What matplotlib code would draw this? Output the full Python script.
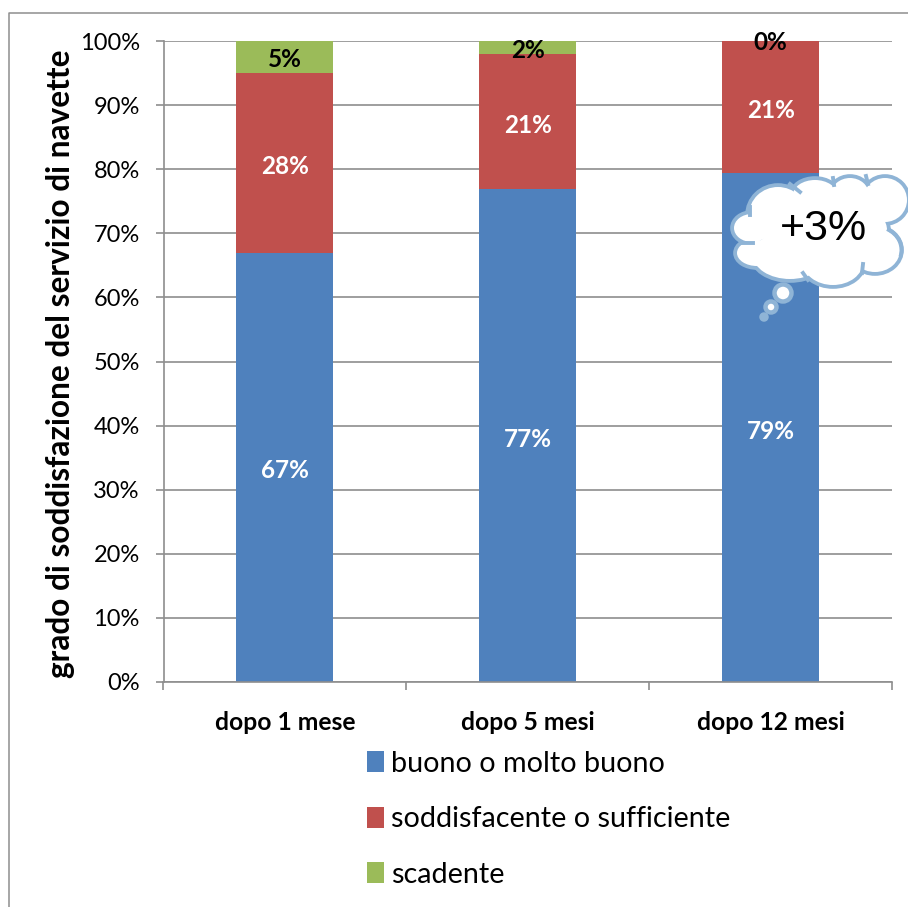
import matplotlib
matplotlib.use("Agg")
import numpy as np
from matplotlib import pyplot as plt
from matplotlib.patches import Ellipse, Arc
from matplotlib.lines import Line2D

plt.rcParams['font.family'] = ['Lato', 'DejaVu Sans']

categories = ['dopo 1 mese', 'dopo 5 mesi', 'dopo 12 mesi']
buono = [67, 76.9, 79.4]
soddisfacente = [28, 21.1, 20.6]
scadente = [5, 2, 0]
buono_labels = ['67%', '77%', '79%']
soddisfacente_labels = ['28%', '21%', '21%']
scadente_labels = ['5%', '2%', '0%']
series_names = ['buono o molto buono', 'soddisfacente o sufficiente', 'scadente']
colors = ['#4F81BD', '#C0504D', '#9BBB59']

W, H = 908, 907
fig = plt.figure(figsize=(W / 100, H / 100), dpi=100)
ax = fig.add_axes([163.5 / W, 1 - 682 / H, 728.5 / W, 641 / H])

x = np.arange(3)
bottom1 = np.array(buono)
bottom2 = bottom1 + np.array(soddisfacente)
ax.set_axisbelow(True)
b1 = ax.bar(x, buono, 0.4, color=colors[0], label=series_names[0])
b2 = ax.bar(x, soddisfacente, 0.4, bottom=bottom1, color=colors[1], label=series_names[1])
b3 = ax.bar(x, scadente, 0.4, bottom=bottom2, color=colors[2], label=series_names[2])

# labels sit a little below the centre of each segment
for i in range(3):
    ax.text(x[i], buono[i] / 2 - 0.55, buono_labels[i], ha='center', va='center',
            color='white', fontsize=17.5, fontweight='bold')
    ax.text(x[i], bottom1[i] + soddisfacente[i] / 2 - 0.6, soddisfacente_labels[i], ha='center', va='center',
            color='white', fontsize=17.5, fontweight='bold')
    ax.text(x[i], bottom2[i] + scadente[i] / 2 - [0.4, 0.5, 0.3][i], scadente_labels[i], ha='center', va='center',
            color='black', fontsize=17.5, fontweight='bold')

ax.set_xlim(-0.5, 2.5)
ax.set_ylim(0, 100)
ax.set_yticks(range(0, 101, 10))
ax.set_yticklabels([str(v) + '%' for v in range(0, 101, 10)], fontsize=17)
ax.yaxis.grid(True, color='#8E8E8E', lw=1.2)
ax.set_xticks([-0.5, 0.5, 1.5, 2.5])
ax.set_xticklabels([])
for i, c in enumerate(categories):
    ax.annotate(c, (x[i], 0), xytext=(0, -40), xycoords=('data', 'axes fraction'),
                textcoords='offset pixels', ha='center', va='center', fontsize=17.7, fontweight='bold')
ax.tick_params(axis='y', color='#8E8E8E', length=6, width=1.2, pad=11)
ax.tick_params(axis='x', color='#8E8E8E', length=6, width=1.2)
for s in ['top', 'right']:
    ax.spines[s].set_visible(False)
for s in ['left', 'bottom']:
    ax.spines[s].set_color('#8E8E8E')
    ax.spines[s].set_linewidth(1.2)

fig.text(61 / W, 1 - 364 / H, 'grado di soddisfazione del servizio di navette', rotation=90,
         ha='center', va='center', fontsize=22.8, fontweight='bold')

ax.legend(handles=[b1, b2, b3], loc='upper left', bbox_to_anchor=(358.5 / W, 1 - 742 / H),
          bbox_transform=fig.transFigure, frameon=False, fontsize=20.7, labelspacing=1.03,
          handlelength=0.6, handleheight=0.75, handletextpad=0.24, borderpad=0.3, borderaxespad=0)

# pixel overlay: outer frame line and the callout cloud
ov = fig.add_axes([0, 0, 1, 1], facecolor='none')
ov.set_xlim(0, W)
ov.set_ylim(H, 0)
ov.axis('off')
ov.add_line(Line2D([8.5, 8.5, W], [H, 12.5, 12.5], color='#8E8E8E', lw=1.1))

edge = '#8FB4D6'
lobes = [(778, 215, 64, 62), (752, 228, 42, 34), (757, 253, 46, 32), (790, 255, 80, 54),
         (833, 262, 66, 52), (875, 250, 56, 50), (815, 195, 50, 36), (850, 195, 44, 40),
         (885, 200, 50, 50), (830, 230, 120, 70)]
for (cx, cy, w, h) in lobes:
    ov.add_patch(Ellipse((cx, cy), w - 6, h - 6, fc=edge, ec=edge, lw=5.5))
for (cx, cy, w, h) in lobes:
    ov.add_patch(Ellipse((cx, cy), w - 6, h - 6, fc='white', ec='none'))
# short inner strokes where the lobes meet
ov.add_patch(Arc((875, 250), 53, 47, theta1=-60, theta2=15, color=edge, lw=2.8))
ticks = [([790, 800], [184, 192]), ([750, 750], [207, 215]), ([742, 753], [243, 243]),
         ([863, 862], [264, 273]), ([803, 808], [273, 280]), ([833, 834], [178, 185]), ([866, 868], [176, 184])]
for xs, ys in ticks:
    ov.add_line(Line2D(xs, ys, color=edge, lw=2.8))
for (cx, cy, d) in [(783, 293, 17), (771, 307, 11), (764, 317, 5)]:
    ov.add_patch(Ellipse((cx, cy), d, d, fc='white', ec=edge, lw=3.2))
ov.text(823, 229, '+3%', ha='center', va='center', fontsize=31, family='Liberation Sans')

fig.savefig('out.png', dpi=100)
